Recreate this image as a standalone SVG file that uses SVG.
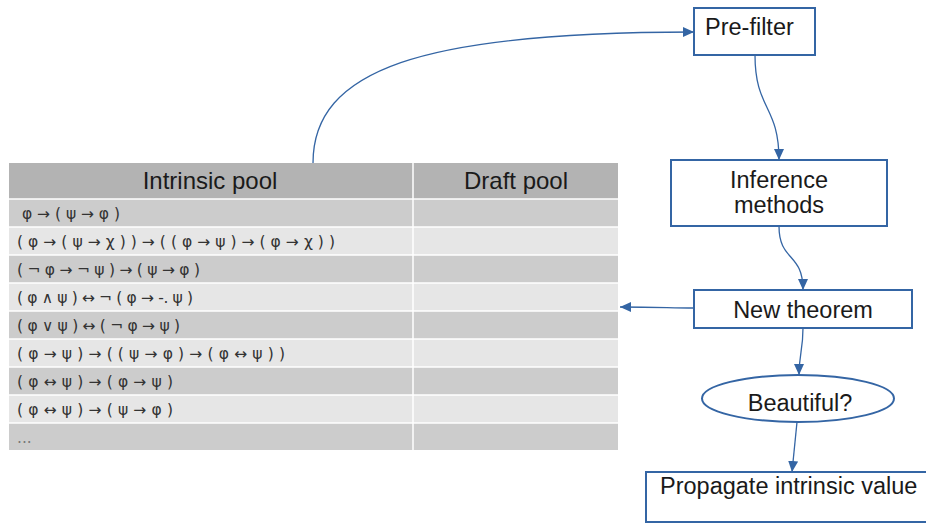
<svg xmlns="http://www.w3.org/2000/svg" width="926" height="523" viewBox="0 0 926 523">
<style>
.node{fill:#fff;stroke:#3465a4;stroke-width:2}
.lbl{font-family:"Liberation Sans",Arial,sans-serif;font-size:23.5px;fill:#1a1a1a}
.hdr{font-family:"Liberation Sans",Arial,sans-serif;font-size:24px;fill:#1a1a1a;text-anchor:middle}
.f{font-family:"DejaVu Sans","Noto Sans",sans-serif;font-size:15.5px;fill:#333}
.dk{fill:#cccccc}.lt{fill:#e6e6e6}
.con{fill:none;stroke:#3465a4;stroke-width:1.3;marker-end:url(#ah)}
</style>
<defs>
<marker id="ah" markerUnits="userSpaceOnUse" markerWidth="12" markerHeight="10" refX="11" refY="5" orient="auto">
<path d="M0,0 L11,5 L0,10 z" fill="#3465a4"/>
</marker>
</defs>
<rect width="926" height="523" fill="#fff"/>
<g id="table">
<rect x="9" y="163" width="609" height="36" fill="#b3b3b3"/>
<rect x="9" y="199" width="609" height="28" class="dk"/>
<rect x="9" y="227" width="609" height="28" class="lt"/>
<rect x="9" y="255" width="609" height="28" class="dk"/>
<rect x="9" y="283" width="609" height="28" class="lt"/>
<rect x="9" y="311" width="609" height="28" class="dk"/>
<rect x="9" y="339" width="609" height="28" class="lt"/>
<rect x="9" y="367" width="609" height="28" class="dk"/>
<rect x="9" y="395" width="609" height="28" class="lt"/>
<rect x="9" y="423" width="609" height="27" class="dk"/>
<g stroke="#fff" stroke-width="1.5">
<line x1="413" y1="163" x2="413" y2="450"/>
<line x1="9" y1="199" x2="618" y2="199"/>
<line x1="9" y1="227" x2="618" y2="227"/>
<line x1="9" y1="255" x2="618" y2="255"/>
<line x1="9" y1="283" x2="618" y2="283"/>
<line x1="9" y1="311" x2="618" y2="311"/>
<line x1="9" y1="339" x2="618" y2="339"/>
<line x1="9" y1="367" x2="618" y2="367"/>
<line x1="9" y1="395" x2="618" y2="395"/>
<line x1="9" y1="423" x2="618" y2="423"/>
</g>
<text class="hdr" x="210" y="189">Intrinsic pool</text>
<text class="hdr" x="516" y="189">Draft pool</text>
<text class="f" x="22" y="219" textLength="98" lengthAdjust="spacing">φ → ( ψ → φ )</text>
<text class="f" x="17" y="247" textLength="318" lengthAdjust="spacing">( φ → ( ψ → χ ) ) → ( ( φ → ψ ) → ( φ → χ ) )</text>
<text class="f" x="17" y="275" textLength="183" lengthAdjust="spacing">( ¬ φ → ¬ ψ ) → ( ψ → φ )</text>
<text class="f" x="17" y="303" textLength="176" lengthAdjust="spacing">( φ ∧ ψ ) ↔ ¬ ( φ → -. ψ )</text>
<text class="f" x="17" y="331" textLength="163" lengthAdjust="spacing">( φ ∨ ψ ) ↔ ( ¬ φ → ψ )</text>
<text class="f" x="17" y="359" textLength="268" lengthAdjust="spacing">( φ → ψ ) → ( ( ψ → φ ) → ( φ ↔ ψ ) )</text>
<text class="f" x="17" y="387" textLength="156" lengthAdjust="spacing">( φ ↔ ψ ) → ( φ → ψ )</text>
<text class="f" x="17" y="415" textLength="156" lengthAdjust="spacing">( φ ↔ ψ ) → ( ψ → φ )</text>
<text class="f" x="17" y="443" style="fill:#777">...</text>
</g>
<g id="connectors">
<path class="con" d="M313,163 C313,70 420,32 694,32"/>
<path class="con" d="M755,55 C755,110 779,105 779,160"/>
<path class="con" d="M779,226 C779,262 803,252 803,290"/>
<path class="con" d="M694,308 C670,308 660,307 620,307"/>
<path class="con" d="M803,328 C803,350 799,355 799,375"/>
<path class="con" d="M797,422 L792,472"/>
</g>
<g id="prefilter">
<rect class="node" x="694" y="8" width="121" height="47"/>
<text class="lbl" x="705" y="35">Pre-filter</text>
</g>
<g id="inference">
<rect class="node" x="671" y="160" width="216" height="66"/>
<text class="lbl" x="779" y="188" text-anchor="middle">Inference</text>
<text class="lbl" x="779" y="213" text-anchor="middle">methods</text>
</g>
<g id="newtheorem">
<rect class="node" x="694" y="290" width="218" height="38"/>
<text class="lbl" x="803" y="318" text-anchor="middle">New theorem</text>
</g>
<g id="beautiful">
<ellipse class="node" cx="798" cy="398.5" rx="96" ry="23.5"/>
<text class="lbl" x="800" y="411" text-anchor="middle">Beautiful?</text>
</g>
<g id="propagate">
<rect class="node" x="646" y="472" width="300" height="50"/>
<text class="lbl" x="660" y="494">Propagate intrinsic value</text>
</g>
</svg>
